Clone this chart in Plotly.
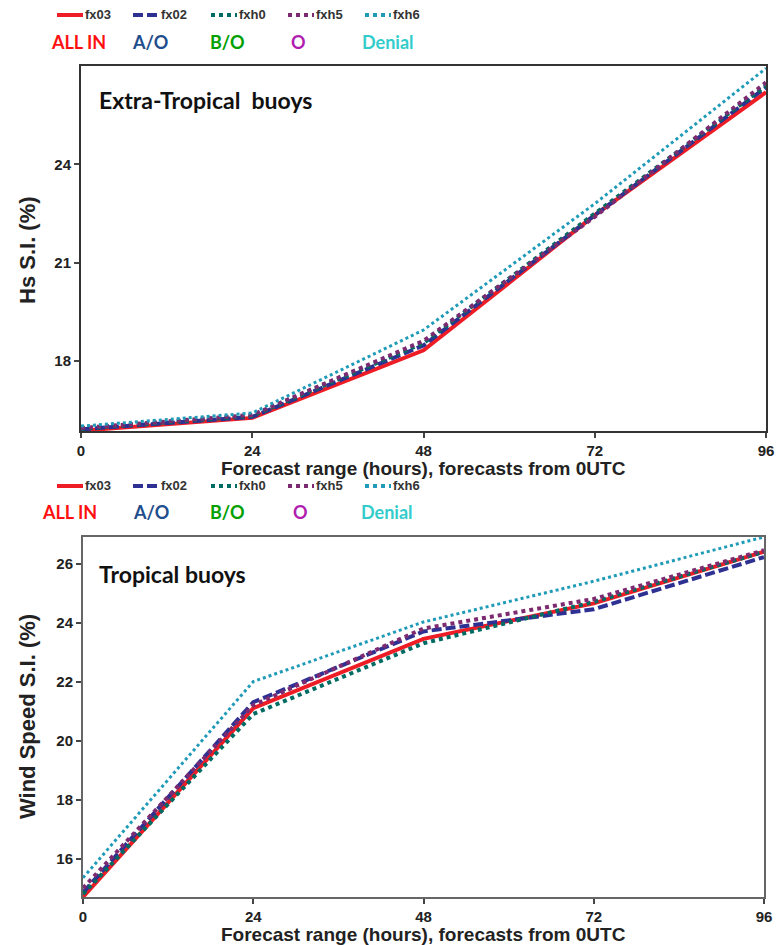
import plotly.graph_objects as go
from plotly.subplots import make_subplots

# Forecast ranges (hours)
hours = [0, 24, 48, 72, 96]

# Experiment names, legend tags and styles
runs = ["fx03", "fx02", "fxh0", "fxh5", "fxh6"]
tags = ["ALL IN", "A/O", "B/O", "O", "Denial"]
tag_colors = ["#ff1010", "#1f4e8c", "#00a000", "#b01eb0", "#33cccc"]
line_colors = ["#ee1c25", "#2e3192", "#006b63", "#7d2a70", "#1f9bb8"]
line_dash = ["solid", "10px,4px", "dot", "dot", "dot"]
line_width = [4, 4, 4, 4, 3]

# Extra-tropical buoys: Hs scatter index (%)
hs_si = {
    "fx03": [15.88, 16.27, 18.33, 22.45, 26.20],
    "fx02": [15.92, 16.30, 18.48, 22.45, 26.35],
    "fxh0": [15.94, 16.33, 18.55, 22.50, 26.40],
    "fxh5": [15.96, 16.36, 18.62, 22.40, 26.50],
    "fxh6": [16.02, 16.42, 18.95, 22.80, 26.93],
}

# Tropical buoys: wind speed scatter index (%)
ws_si = {
    "fx03": [14.70, 21.10, 23.45, 24.65, 26.40],
    "fx02": [14.85, 21.30, 23.70, 24.45, 26.22],
    "fxh0": [14.80, 20.90, 23.30, 24.70, 26.40],
    "fxh5": [15.00, 21.20, 23.80, 24.80, 26.45],
    "fxh6": [15.35, 22.00, 24.02, 25.40, 26.90],
}

W, H = 776, 945


def px(x):
    return x / W


def py(y):
    return 1 - y / H


fig = make_subplots(rows=2, cols=1)

for panel, data in ((1, hs_si), (2, ws_si)):
    for i, r in enumerate(runs):
        fig.add_trace(
            go.Scatter(
                x=hours, y=data[r], mode="lines", name=r, showlegend=False,
                line=dict(color=line_colors[i], width=line_width[i], dash=line_dash[i]),
            ),
            row=panel, col=1,
        )

tick_font = dict(family="Liberation Sans, Arial", size=15, color="#222222", weight="bold")
axis_common = dict(
    showgrid=False, zeroline=False, showline=True, mirror=True, automargin=False,
    ticks="outside", ticklen=5, tickwidth=1.5, tickfont=tick_font,
)

fig.update_layout(
    width=W, height=H,
    margin=dict(l=0, r=0, t=0, b=0),
    paper_bgcolor="white", plot_bgcolor="white",
    xaxis=dict(domain=[px(81), px(766)], range=[0, 96], tickvals=hours,
               linecolor="#333333", linewidth=2, **axis_common),
    yaxis=dict(domain=[py(431), py(66)], range=[15.87, 27.0], tickvals=[18, 21, 24],
               linecolor="#333333", linewidth=2, **axis_common),
    xaxis2=dict(domain=[px(83), px(764)], range=[0, 96], tickvals=hours,
                linecolor="#666666", linewidth=2, **axis_common),
    yaxis2=dict(domain=[py(897), py(537)], range=[14.7, 26.9], tickvals=[16, 18, 20, 22, 24, 26],
                linecolor="#666666", linewidth=2, **axis_common),
)

annotations = []
shapes = []

title_font = dict(family="Liberation Sans, Arial", size=19, color="#222222")
xtitle = "<b>Forecast range (hours), forecasts from 0UTC</b>"
annotations.append(dict(x=px(424), y=py(469), xref="paper", yref="paper", text=xtitle,
                        showarrow=False, font=title_font, xanchor="center", yanchor="middle"))
annotations.append(dict(x=px(424), y=py(934), xref="paper", yref="paper", text=xtitle,
                        showarrow=False, font=title_font, xanchor="center", yanchor="middle"))

ytitle_font = dict(family="Liberation Sans, Arial", size=22, color="#222222")
annotations.append(dict(x=px(27), y=py(250), xref="paper", yref="paper", text="<b>Hs S.I. (%)</b>",
                        textangle=-90, showarrow=False, font=ytitle_font,
                        xanchor="center", yanchor="middle"))
annotations.append(dict(x=px(27), y=py(717), xref="paper", yref="paper",
                        text="<b>Wind Speed S.I. (%)</b>", textangle=-90, showarrow=False,
                        font=ytitle_font, xanchor="center", yanchor="middle"))

panel_font = dict(family="Lato", size=23, color="#111111")
annotations.append(dict(x=px(97), y=py(100), xref="paper", yref="paper",
                        text="<b>Extra-Tropical&nbsp;&nbsp;buoys</b>", showarrow=False,
                        font=panel_font, xanchor="left", yanchor="middle"))
annotations.append(dict(x=px(97), y=py(574), xref="paper", yref="paper",
                        text="<b>Tropical buoys</b>", showarrow=False,
                        font=panel_font, xanchor="left", yanchor="middle"))

# Legend rows above each panel: line sample + run name, then coloured tag
sample_x = [57, 133, 211, 288, 365]
tag_x = [[78, 150, 227, 298, 388], [69, 151, 227, 300, 387]]
for block, (y_line, y_tag) in enumerate(((15, 42), (486, 512))):
    for i, r in enumerate(runs):
        x0 = sample_x[i]
        shapes.append(dict(type="line", xref="paper", yref="paper",
                           x0=px(x0), x1=px(x0 + 26), y0=py(y_line), y1=py(y_line),
                           line=dict(color=line_colors[i], width=4, dash=line_dash[i])))
        annotations.append(dict(x=px(x0 + 26), y=py(y_line), xref="paper", yref="paper",
                                text="<b>%s</b>" % r, showarrow=False, xanchor="left",
                                yanchor="middle",
                                font=dict(family="Liberation Sans, Arial",
                                          size=13, color="#333333")))
        annotations.append(dict(x=px(tag_x[block][i]), y=py(y_tag), xref="paper", yref="paper",
                                text="<b>%s</b>" % tags[i], showarrow=False, xanchor="center",
                                yanchor="middle",
                                font=dict(family="Lato", size=18, color=tag_colors[i])))

fig.update_layout(annotations=annotations, shapes=shapes)

fig.write_html("out.html")
